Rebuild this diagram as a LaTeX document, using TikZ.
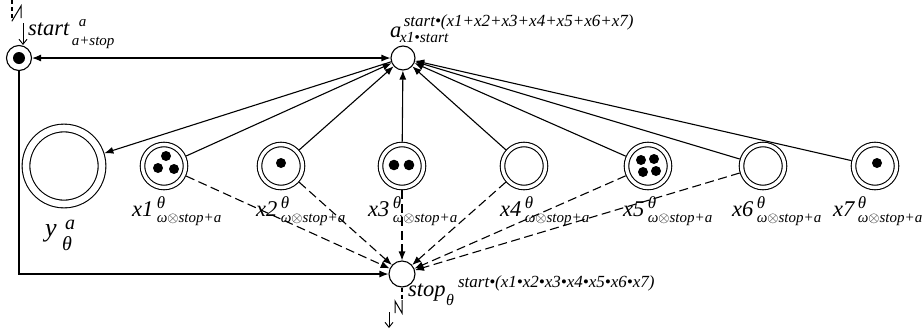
\documentclass[tikz,border=0pt]{standalone}
\usepackage{fontspec}
\setmainfont{Liberation Serif}
\usetikzlibrary{arrows.meta}

\tikzset{
  lw/.style={line width=1.1pt},
  arr/.style={lw,-{Latex[length=9pt,width=7pt]}},
  darr/.style={lw,{Latex[length=9pt,width=7pt]}-{Latex[length=9pt,width=7pt]}},
  dasharr/.style={arr,dash pattern=on 9pt off 4.5pt},
  barb/.style={line width=0.9pt,-{Straight Barb[length=5pt,width=8pt]}},
  state/.style={circle,draw,lw,inner sep=0pt},
  xstate/.style={circle,draw,line width=1.1pt,double,double distance=3.4pt,
                 inner sep=0pt,minimum size=43pt,outer sep=2.8pt},
  ystate/.style={circle,draw,line width=1.1pt,double,double distance=6.6pt,
                 inner sep=0pt,minimum size=76pt,outer sep=4.4pt},
  txt/.style={anchor=base west,inner sep=0pt},
  big/.style={txt,font=\fontsize{22.5}{24}\selectfont\itshape},
  small/.style={txt,font=\fontsize{#1}{#1}\selectfont\itshape},
}

% place "x<i>" with its theta superscript and its subscript
\newcommand{\xlabel}[3]{%
  \node[big] (lx#1) at (#2,#3) {x#1};
  \node[small=17] (lx#1sup) at ([shift={(3,-8)}]lx#1.base east) {θ};
  \node[small=15] (lx#1sub) at ([shift={(3,6)}]lx#1.base east) {ω$\otimes$stop+a};
}

\begin{document}
\begin{tikzpicture}[x=1pt,y=-1pt]
\useasboundingbox (0,0) rectangle (923,333);

% states
\node[state,minimum size=25pt] (start) at (19,58) {};
\fill (start.center) circle (6pt);
\node[state,minimum size=24pt] (a) at (403,58) {};
\node[state,minimum size=26pt] (stop) at (402,274) {};
\node[ystate] (y) at (64,166) {};

\node[xstate] (x1) at (164,166) {};
\node[xstate] (x2) at (281,166) {};
\node[xstate] (x3) at (402,166) {};
\node[xstate] (x4) at (524,166) {};
\node[xstate] (x5) at (648,166) {};
\node[xstate] (x6) at (763,166) {};
\node[xstate] (x7) at (875,166) {};

% tokens
\fill (166,156) circle (5pt) (158,168) circle (5pt) (174,169) circle (5pt);
\fill (281,163) circle (5pt);
\fill (394,165) circle (5.3pt) (409,165) circle (5.3pt);
\fill (641,160) circle (5pt) (654,159) circle (5pt) (643,172) circle (5pt) (656,171) circle (5pt);
\fill (877,163) circle (5pt);

% labels
\node[big] (lstart) at (28,35) {start};
\node[small=15] (lstartsup) at ([shift={(9,-9)}]lstart.base east) {a};
\node[small=15] (lstartsub) at ([shift={(2,10)}]lstart.base east) {a+stop};

\node[big] (la) at (390,37) {a};
\node[small=17] (lasup) at ([shift={(2,-11)}]la.base east) {start•(x1+x2+x3+x4+x5+x6+x7)};
\node[small=15.5] (lasub) at ([shift={(-2,5)}]la.base east) {x1•start};

\node[big] (lstop) at (408,296) {stop};
\node[small=17] (lstopsup) at ([shift={(12,-9)}]lstop.base east) {start•(x1•x2•x3•x4•x5•x6•x7)};
\node[small=16] (lstopsub) at ([shift={(0,9)}]lstop.base east) {θ};

\node[txt,font=\fontsize{26}{28}\selectfont\itshape] (ly) at (45,236) {y};
\node[small=20] (lysup) at ([shift={(8,-7)}]ly.base east) {a};
\node[small=20] (lysub) at ([shift={(5,14)}]ly.base east) {θ};

\xlabel{1}{132}{216}
\xlabel{2}{256}{216}
\xlabel{3}{368}{216}
\xlabel{4}{500}{216}
\xlabel{5}{623}{216}
\xlabel{6}{732}{216}
\xlabel{7}{833}{216}

% connectors
\draw[darr] (start) -- (a);
\draw[arr] (start) |- (stop);
\draw[arr] (a) -- (y);
\foreach \i in {1,...,7} \draw[arr] (x\i) -- (a);
\foreach \i in {1,...,6} \draw[dasharr] (x\i) -- (stop);

% entry marker above start
\coordinate (in0) at (12,0);
\coordinate (in1) at (23,23);
\draw[lw,dash pattern=on 4pt off 3pt] (in0) -- (12,21);
\draw[line width=1pt] (12,21) -- (21,6) -- (21,18);
\draw[barb] (in1) -- (start.north -| in1);

% exit marker below stop
\coordinate (out1) at (389,312);
\coordinate (out2) at (389,328);
\draw[lw,dash pattern=on 4pt off 3pt] (stop.south) -- (402,299);
\draw[line width=1pt] (395,313) -- (395,301) -- (402,313) -- (402,300);
\draw[barb] (out1) -- (out2);
\end{tikzpicture}
\end{document}
